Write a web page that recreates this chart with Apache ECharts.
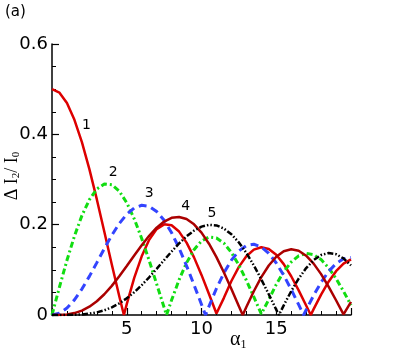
<!DOCTYPE html>
<html>
<head>
<meta charset="utf-8">
<script src="https://cdn.jsdelivr.net/npm/echarts@6/dist/echarts.min.js"></script>
<style>
  html, body { margin: 0; padding: 0; background: #fff; }
  #chart { width: 399px; height: 355px; }
</style>
</head>
<body>
<div id="chart"></div>
<script>
// alpha_1, dI2/I0 pairs (zeros where the curves touch the axis)
const curve1 = [[0, .5], [.5, .4922], [1, .4692], [1.5, .4321], [2, .3826], [2.5, .3230], [3, .2559], [3.5, .1845], [4, .1119], [4.5, .0414], [4.81, 0], [5, .0242], [5.5, .0821], [6, .1300], [6.5, .1664], [7, .1901], [7.5, .2007], [8, .1986], [8.5, .1847], [9, .1603], [9.5, .1276], [10, .0888], [10.5, .0466], [11, .0034], [11.04, 0], [11.5, .0380], [12, .0753], [12.5, .1065], [13, .1300], [13.5, .1447], [14, .1500], [14.5, .1461], [15, .1332], [15.5, .1126], [16, .0858], [16.5, .0546], [17, .0210], [17.31, 0], [17.5, .0130], [18, .0452], [18.5, .0737], [19, .0970], [19.5, .1137], [20, .1230]]
const curve2 = [[0, 0], [.5, .0620], [1, .1211], [1.5, .1746], [2, .2200], [2.5, .2553], [3, .2790], [3.5, .2901], [4, .2884], [4.5, .2742], [5, .2485], [5.5, .2130], [6, .1695], [6.5, .1206], [7, .0687], [7.5, .0166], [7.66, 0], [8, .0330], [8.5, .0778], [9, .1155], [9.5, .1446], [10, .1638], [10.5, .1725], [11, .1707], [11.5, .1590], [12, .1383], [12.5, .1104], [13, .0769], [13.5, .0402], [14, .0023], [14.03, 0], [14.5, .0343], [15, .0676], [15.5, .0958], [16, .1173], [16.5, .1311], [17, .1366], [17.5, .1337], [18, .1227], [18.5, .1046], [19, .0806], [19.5, .0525], [20, .0217]]
const curve3 = [[0, 0], [.5, .0039], [1, .0153], [1.5, .0335], [2, .0575], [2.5, .0855], [3, .1160], [3.5, .1470], [4, .1764], [4.5, .2024], [5, .2230], [5.5, .2370], [6, .2430], [6.5, .2406], [7, .2293], [7.5, .2096], [8, .1821], [8.5, .1481], [9, .1089], [9.5, .0667], [10, .0233], [10.27, 0], [10.5, .0191], [11, .0587], [11.5, .0932], [12, .1214], [12.5, .1418], [13, .1537], [13.5, .1566], [14, .1507], [14.5, .1366], [15, .1151], [15.5, .0879], [16, .0565], [16.5, .0228], [16.83, 0], [17, .0112], [17.5, .0435], [18, .0724], [18.5, .0963], [19, .1139], [19.5, .1244], [20, .1273]]
const curve4 = [[0, 0], [.5, .0002], [1, .0013], [1.5, .0042], [2, .0098], [2.5, .0184], [3, .0305], [3.5, .0459], [4, .0645], [4.5, .0856], [5, .1083], [5.5, .1317], [6, .1545], [6.5, .1755], [7, .1934], [7.5, .2069], [8, .2151], [8.5, .2171], [9, .2124], [9.5, .2008], [10, .1824], [10.5, .1579], [11, .1281], [11.5, .0941], [12, .0574], [12.5, .0196], [12.76, 0], [13, .0177], [13.5, .0526], [14, .0838], [14.5, .1097], [15, .1290], [15.5, .1412], [16, .1456], [16.5, .1422], [17, .1313], [17.5, .1138], [18, .0905], [18.5, .0629], [19, .0326], [19.5, .0014], [19.52, 0], [20, .0292]]
const curve5 = [[0, 0], [.5, 0], [1, .0001], [1.5, .0004], [2, .0012], [2.5, .0029], [3, .0059], [3.5, .0104], [4, .0170], [4.5, .0258], [5, .0369], [5.5, .0504], [6, .0660], [6.5, .0835], [7, .1022], [7.5, .1215], [8, .1406], [8.5, .1584], [9, .1742], [9.5, .1868], [10, .1956], [10.5, .1996], [11, .1984], [11.5, .1914], [12, .1788], [12.5, .1606], [13, .1374], [13.5, .1099], [14, .0789], [14.5, .0458], [15, .0119], [15.18, 0], [15.5, .0214], [16, .0527], [16.5, .0806], [17, .1039], [17.5, .1215], [18, .1327], [18.5, .1371], [19, .1346], [19.5, .1253], [20, .1098]]

const curveNames = ['1', '2', '3', '4', '5']
const xTicks = [5, 10, 15]
const yTicks = ['0', '0.2', '0.4', '0.6']

const sans = 'DejaVu Sans'
const serif = 'Liberation Serif'

const chart = echarts.init(document.getElementById('chart'), null, { renderer: 'canvas' })

function curve(name, data, color, type, width, labelAt) {
  return {
    name,
    type: 'line',
    data,
    symbol: 'none',
    smooth: false,
    animation: false,
    lineStyle: { color, width, type },
    markPoint: {
      symbol: 'circle',
      symbolSize: 0,
      data: [{ coord: labelAt, value: name }],
      label: {
        show: true,
        formatter: name,
        color: '#000',
        fontFamily: sans,
        fontSize: 14,
        position: 'inside'
      }
    }
  }
}

const option = {
  animation: false,
  grid: { left: 52, right: 48, top: 44, bottom: 40 },
  xAxis: {
    type: 'value',
    min: 0,
    max: 20,
    interval: 5,
    axisLine: { lineStyle: { color: '#000', width: 1.5 } },
    axisTick: { inside: true, length: 7, lineStyle: { color: '#000', width: 1.2 } },
    minorTick: { show: true, splitNumber: 5, length: 4, lineStyle: { color: '#000', width: 1 } },
    splitLine: { show: false },
    axisLabel: {
      margin: 5,
      color: '#000',
      fontFamily: sans,
      fontSize: 18,
      formatter: (v) => (xTicks.includes(v) ? String(v) : '')
    }
  },
  yAxis: {
    type: 'value',
    min: 0,
    max: 0.6,
    interval: 0.2,
    axisLine: { show: true, lineStyle: { color: '#000', width: 1.5 } },
    axisTick: { show: true, inside: true, length: 7, lineStyle: { color: '#000', width: 1.2 } },
    minorTick: { show: true, splitNumber: 4, length: 4, lineStyle: { color: '#000', width: 1 } },
    splitLine: { show: false },
    axisLabel: {
      margin: 4,
      color: '#000',
      fontFamily: sans,
      fontSize: 18,
      formatter: (v) => yTicks[Math.round(v / 0.2)]
    }
  },
  graphic: [
    {
      type: 'text', left: 5, top: 5,
      style: { text: '(a)', font: '15px "DejaVu Sans"', fill: '#000' }
    },
    {
      type: 'text', x: 12, y: 176, rotation: Math.PI / 2,
      style: {
        text: '{a|Δ I}{s|2}{a|/ I}{s|0}',
        align: 'center', verticalAlign: 'middle',
        rich: {
          a: { fontFamily: serif, fontSize: 18, fill: '#000', lineHeight: 18, verticalAlign: 'top' },
          s: { fontFamily: serif, fontSize: 11, fill: '#000', lineHeight: 11, padding: [9, 0, 0, 0] }
        }
      }
    },
    {
      type: 'text', left: 230, top: 329,
      style: {
        text: '{a|α}{s|1}',
        rich: {
          a: { fontFamily: serif, fontSize: 20, fill: '#000', lineHeight: 20, verticalAlign: 'top' },
          s: { fontFamily: serif, fontSize: 12, fill: '#000', lineHeight: 12, padding: [10, 0, 0, 0] }
        }
      }
    }
  ],
  series: [
    curve(curveNames[0], curve1, '#dd0000', 'solid', 2.5, [2.3, 0.42]),
    curve(curveNames[1], curve2, '#11dd11', [6, 3, 2, 3], 3, [4.1, 0.315]),
    curve(curveNames[2], curve3, '#3344ff', [8, 5], 3, [6.5, 0.27]),
    curve(curveNames[3], curve4, '#aa0000', 'solid', 2.5, [8.95, 0.24]),
    curve(curveNames[4], curve5, '#000000', [6, 2, 1.5, 2, 1.5, 2], 2.5, [10.7, 0.225])
  ]
}

chart.setOption(option)
</script>
</body>
</html>
